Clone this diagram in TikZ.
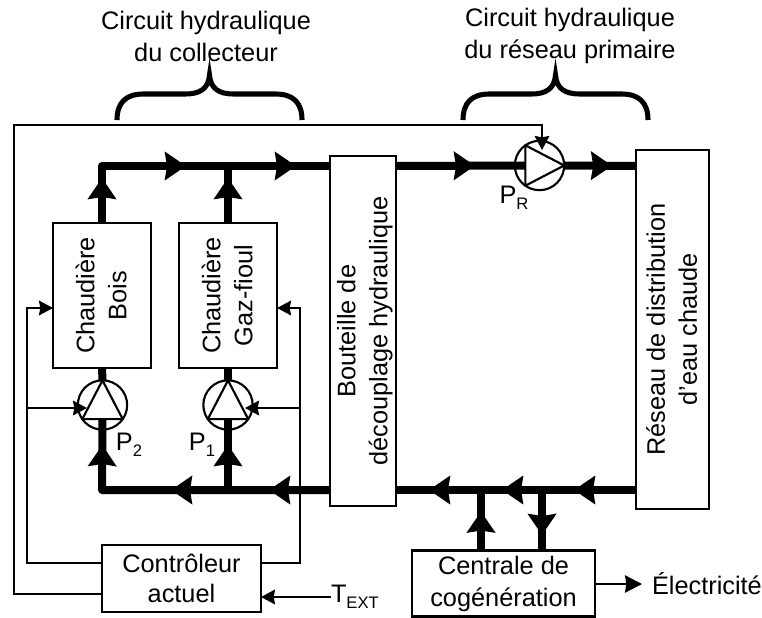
\documentclass[tikz,border=0pt]{standalone}
\usepackage{fontspec}
\usepackage{graphicx}
\setmainfont{Liberation Sans}
\usetikzlibrary{arrows.meta,decorations.markings,calc}
\newcommand{\vtext}[1]{\hspace*{1.5pt}\rotatebox{90}{\begin{tabular}{@{}c@{}}#1\end{tabular}}\hspace*{-1.5pt}}
\newcommand{\lowtext}[1]{\raisebox{-0.24em}{\fontsize{12.5}{13}\selectfont #1}}

\begin{document}
\begin{tikzpicture}[
    x=0.75pt,y=-0.75pt,
    font=\fontsize{19}{24}\selectfont,
    box/.style={draw,line width=1.6pt,inner sep=0pt,outer sep=0pt,align=center},
    pump/.style={draw,circle,line width=1.6pt,inner sep=0pt,outer sep=0pt,minimum size=37pt},
    pumpmark/.style={line width=1.6pt,line join=round},
    pipe/.style={line width=6pt,line join=round},
    tipat/.style={postaction={decorate,decoration={markings,
      mark=at position #1*0.75pt with {\arrow{Stealth[length=15.75pt,width=21pt,inset=1.5pt]}}}}},
    signal/.style={line width=1.6pt,-{Stealth[length=10.5pt,width=11pt,inset=1pt]}},
    heading/.style={align=center,inner sep=0pt},
    lbl/.style={inner sep=0pt,outer sep=0pt},
    curlybrace/.pic={
      \draw[line width=3.8pt] (-92.5,1) .. controls (-92.5,-16) and (-84,-25) .. (-66,-25)
        -- (-24,-25) .. controls (-10,-25) and (-1,-30) .. (0,-44)
        .. controls (1,-30) and (10,-25) .. (24,-25)
        -- (66,-25) .. controls (84,-25) and (92.5,-16) .. (92.5,1);
    }
  ]
    \useasboundingbox (0,0) rectangle (762,617);

    \node[heading] (hcoll) at (206,36) {Circuit hydraulique\\du collecteur};
    \node[heading] (hres) at (570,36) {Circuit hydraulique\\du réseau primaire};
    \pic (bracecoll) at (209.5,119) {curlybrace};
    \pic (braceres) at (555.5,119) {curlybrace};

    \node[box,minimum width=73.5pt,minimum height=108.75pt] (bois) at (102,295.5) {\vtext{Chaudière\\Bois}};
    \node[box,minimum width=73.5pt,minimum height=108.75pt] (gaz) at (228,295.5) {\vtext{Chaudière\\Gaz-fioul}};
    \node[box,minimum width=49.5pt,minimum height=262.5pt] (bout) at (363,331) {\vtext{Bouteille de\\découplage hydraulique}};
    \node[box,minimum width=54.75pt,minimum height=269.25pt] (res) at (672.5,329.5) {\vtext{Réseau de distribution\\d'eau chaude}};
    \node[box,minimum width=119.25pt,minimum height=50.25pt] (ctl) at (181.5,578.5) {Contrôleur\\[-1.5pt]actuel};
    \node[box,minimum width=137.25pt,minimum height=49.5pt] (cogen) at (503.5,583.5) {Centrale de\\cogénération};

    \node[pump] (pump2) at (102.5,405) {};
    \node[pump] (pump1) at (228,405) {};
    \node[pump] (pumpR) at (539.5,165.5) {};
    \draw[pumpmark] (pump2.90) -- (pump2.215) -- (pump2.-35) -- cycle;
    \draw[pumpmark] (pump1.90) -- (pump1.215) -- (pump1.-35) -- cycle;
    \draw[pumpmark] (pumpR.0) -- (pumpR.125) -- (pumpR.-125) -- cycle;

    \node[lbl] (p2) at (129,445) {P\lowtext{2}};
    \node[lbl] (p1) at (202,445) {P\lowtext{1}};
    \node[lbl] (pr) at (514,198) {P\lowtext{R}};
    \node[lbl,anchor=west] (text) at (331,597) {T\lowtext{EXT}};
    \node[lbl,anchor=west] (elec) at (652,584) {Électricité};

    \coordinate (topline) at (102,166);
    \coordinate (lowline) at (102,490);
    \coordinate (gazup) at (228,166);
    \coordinate (gazlow) at (228,490);
    \coordinate (cogenup) at (481,490);
    \coordinate (cogendown) at (542,490);
    \coordinate (base2) at ($(pump2.215)!0.5!(pump2.-35)$);
    \coordinate (base1) at ($(pump1.215)!0.5!(pump1.-35)$);
    \coordinate (baseR) at ($(pumpR.125)!0.5!(pumpR.-125)$);

    \draw[pipe,tipat=45,tipat=141,tipat=251] (bois.north) -- (topline) -- (bout.west |- topline);
    \draw[pipe,tipat=45] (gaz.north) -- (gazup);
    \draw[pipe] (bois.south) -- (pump2.north);
    \draw[pipe] (gaz.south) -- (pump1.north);
    \draw[pipe,tipat=61,tipat=159,tipat=273] (bout.west |- lowline) -- (lowline) -- (base2);
    \draw[pipe,tipat=45] (gazlow) -- (base1);
    \draw[pipe,tipat=79] (bout.east |- topline) -- (baseR);
    \draw[pipe,tipat=48] (pumpR.east) -- (res.west |- topline);
    \draw[pipe,tipat=62,tipat=134,tipat=207] (res.west |- lowline) -- (bout.east |- lowline);
    \draw[pipe,tipat=39] (cogen.north -| cogenup) -- (cogenup);
    \draw[pipe,tipat=45] (cogendown) -- (cogen.north -| cogendown);

    \coordinate (ctlout) at (102,594);
    \coordinate (ctlleft) at (102,563);
    \coordinate (ctlright) at (261,563);
    \coordinate (outercorner) at (14,125);
    \coordinate (pumpRin) at (542,150);
    \coordinate (leftbus) at (27,308);
    \coordinate (rightbus) at (300,308);
    \coordinate (leftbranch) at (27,408);
    \coordinate (rightbranch) at (300,408);
    \coordinate (pump2in) at (87,408);
    \coordinate (pump1in) at (245,408);

    \draw[signal] (ctlout) -| (outercorner) -| (pumpRin);
    \draw[signal] (ctlleft) -| (leftbus) -- (bois.west |- leftbus);
    \draw[signal] (ctlright) -| (rightbus) -- (gaz.east |- rightbus);
    \draw[signal] (leftbranch) -- (pump2in);
    \draw[signal] (rightbranch) -- (pump1in);
    \draw[signal] (text.west) -- (ctl.east |- text.west);
    \draw[line width=1.6pt,-{Stealth[length=12.75pt,width=13pt,inset=1pt]}] (cogen.east |- elec.west) -- ($(elec.west)+(-10,0)$);
  \end{tikzpicture}
\end{document}
